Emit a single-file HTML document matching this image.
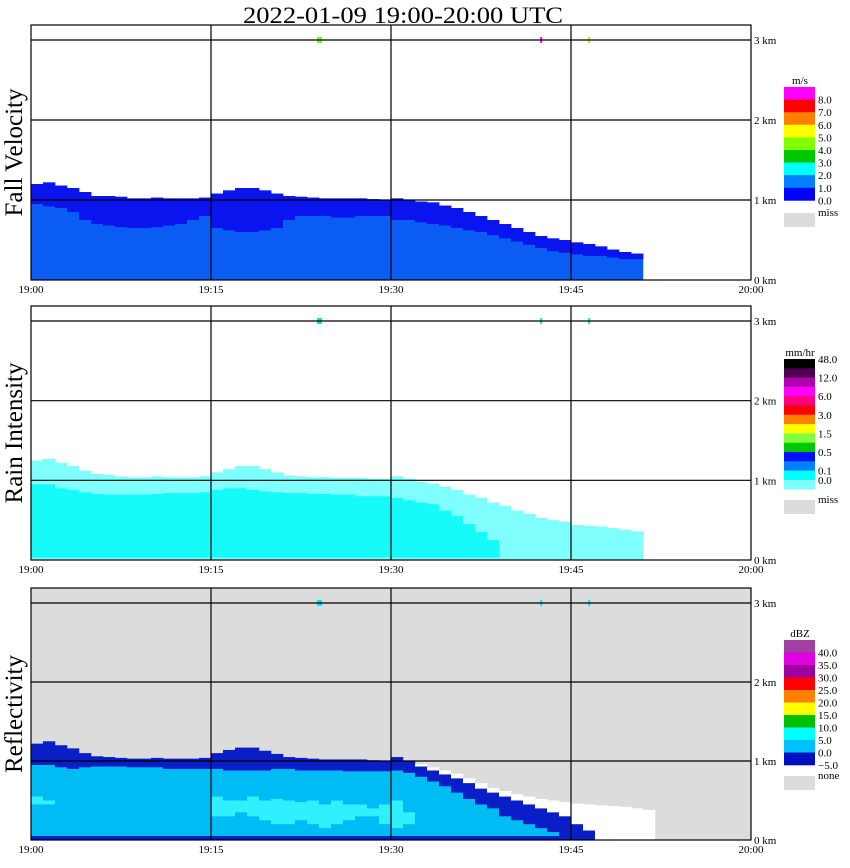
<!DOCTYPE html>
<html><head><meta charset="utf-8"><style>
html,body{margin:0;padding:0;background:#fff;}
svg{display:block;font-family:"Liberation Serif",serif;}
</style></head><body>
<svg id="chart" width="850" height="868" viewBox="0 0 850 868" xmlns="http://www.w3.org/2000/svg">
<text x="243" y="23" font-size="23" textLength="320" lengthAdjust="spacingAndGlyphs">2022-01-09   19:00-20:00 UTC</text>
<g id="layers"></g>
</svg>
<script>
// ---- data (per-minute, km) ----
const minutes = Array.from({length:52},(_, i)=>i);
const fallTop = [1.2,1.22,1.18,1.15,1.1,1.05,1.05,1.04,1.02,1.02,1.03,1.02,1.02,1.02,1.03,1.08,1.12,1.15,1.15,1.12,1.08,1.05,1.04,1.03,1.02,1.02,1.02,1.02,1.01,1.0,1.02,1.0,0.98,0.97,0.93,0.9,0.85,0.8,0.75,0.7,0.65,0.6,0.55,0.52,0.5,0.47,0.45,0.42,0.38,0.35,0.33,0];
const fallDark = [0.95,0.92,0.9,0.85,0.75,0.7,0.68,0.66,0.65,0.65,0.66,0.68,0.7,0.75,0.8,0.65,0.62,0.6,0.6,0.62,0.65,0.75,0.8,0.8,0.8,0.78,0.78,0.8,0.8,0.8,0.75,0.75,0.72,0.7,0.68,0.65,0.62,0.6,0.56,0.52,0.48,0.44,0.4,0.36,0.34,0.32,0.3,0.3,0.28,0.26,0.26,0];
const rainTop = [1.25,1.27,1.22,1.18,1.12,1.08,1.07,1.05,1.04,1.04,1.05,1.04,1.04,1.04,1.05,1.1,1.14,1.18,1.18,1.14,1.1,1.06,1.05,1.04,1.04,1.03,1.03,1.03,1.02,1.02,1.05,1.02,0.98,0.96,0.92,0.88,0.82,0.78,0.72,0.68,0.62,0.58,0.53,0.5,0.48,0.44,0.43,0.42,0.4,0.38,0.36,0];
const rainCore = [0.95,0.95,0.9,0.88,0.85,0.83,0.82,0.82,0.82,0.82,0.83,0.84,0.84,0.84,0.85,0.88,0.9,0.9,0.88,0.86,0.85,0.84,0.84,0.83,0.83,0.82,0.82,0.8,0.8,0.8,0.78,0.75,0.72,0.7,0.62,0.55,0.45,0.35,0.25,0,0,0,0,0,0,0,0,0,0,0,0,0];
const reflTop = [1.22,1.25,1.2,1.16,1.1,1.06,1.05,1.04,1.03,1.03,1.04,1.03,1.03,1.03,1.04,1.1,1.14,1.17,1.17,1.13,1.09,1.05,1.04,1.03,1.02,1.02,1.02,1.02,1.01,1.0,1.05,1.0,0.96,0.92,0.88,0.84,0.78,0.72,0.66,0.62,0.58,0.55,0.52,0.5,0.48,0.46,0.45,0.44,0.43,0.42,0.4,0.38];
const reflColorTop = [1.22,1.25,1.2,1.16,1.1,1.06,1.05,1.04,1.03,1.03,1.04,1.03,1.03,1.03,1.04,1.1,1.14,1.17,1.17,1.13,1.09,1.05,1.04,1.03,1.02,1.02,1.02,1.02,1.01,1.0,1.05,1.0,0.93,0.88,0.83,0.78,0.72,0.65,0.6,0.55,0.5,0.45,0.4,0.35,0.3,0.2,0.12,0,0,0,0,0];
const reflDark = [0.95,0.95,0.92,0.9,0.92,0.93,0.93,0.93,0.92,0.92,0.92,0.9,0.9,0.9,0.9,0.9,0.88,0.88,0.88,0.88,0.9,0.9,0.88,0.88,0.88,0.88,0.87,0.87,0.87,0.87,0.88,0.85,0.8,0.74,0.68,0.6,0.52,0.45,0.4,0.3,0.25,0.2,0.15,0.1,0.05,0,0,0,0,0,0,0];
const cyanTop = [0.55,0.5,0,0,0,0,0,0,0,0,0,0,0,0,0,0.55,0.5,0.5,0.55,0.5,0.52,0.5,0.48,0.5,0.45,0.5,0.45,0.45,0.4,0.45,0.5,0.35,0,0,0,0,0,0,0,0,0,0,0,0,0,0,0,0,0,0,0,0];
const cyanBot = [0.45,0.45,0,0,0,0,0,0,0,0,0,0,0,0,0,0.3,0.3,0.35,0.3,0.25,0.2,0.2,0.25,0.2,0.15,0.2,0.25,0.3,0.3,0.2,0.15,0.2,0,0,0,0,0,0,0,0,0,0,0,0,0,0,0,0,0,0,0,0];
const markerMins = [24,42.6,46.6];
const fallLegendLabels = ["8.0","7.0","6.0","5.0","4.0","3.0","2.0","1.0","0.0"];
const rainLegendLabels = ["48.0","","12.0","","6.0","","3.0","","1.5","","0.5","","0.1","0.0"];
const reflLegendLabels = ["","40.0","35.0","30.0","25.0","20.0","15.0","10.0","5.0","0.0","\u22125.0"];
const xTickLabels = ["19:00","19:15","19:30","19:45","20:00"];
const kmLabels = ["0 km","1 km","2 km","3 km"];

const NS="http://www.w3.org/2000/svg";
const root=document.getElementById('layers');
function mk(tag,attrs,parent){const e=document.createElementNS(NS,tag);for(const k in attrs)e.setAttribute(k,attrs[k]);(parent||root).appendChild(e);return e;}
const X0=31,X1=751;
function xs(m){return X0+m*(X1-X0)/60;}
const panels=[
 {name:'fall-velocity',title:'Fall Velocity',top:25,bot:280,k3:40,bg:'#fff'},
 {name:'rain-intensity',title:'Rain Intensity',top:306,bot:560,k3:321,bg:'#fff'},
 {name:'reflectivity',title:'Reflectivity',top:588,bot:840,k3:603,bg:'#dcdcdc'}
];
function ysFn(p){const s=(p.bot-p.k3)/3;return km=>p.bot-km*s;}
function col(g,m,k0,k1,ys,fill){if(k1<=k0)return;const r=mk('rect',{x:xs(m),y:ys(k1),width:xs(1)-xs(0)+0.3,height:ys(k0)-ys(k1),fill:fill},g);

}

panels.forEach((p,pi)=>{
 const g=mk('g',{});
 
 
 mk('rect',{x:X0,y:p.top,width:X1-X0,height:p.bot-p.top,fill:p.bg},g);
 const ys=ysFn(p);
 const data=mk('g',{},g);
 
 
 minutes.forEach(m=>{
  if(pi===0){
   if(fallTop[m]<=0)return;
   col(data,m,0,fallTop[m],ys,'#0b5cf2');
   col(data,m,fallDark[m],fallTop[m],ys,'#0a14ee');
  } else if(pi===1){
   col(data,m,0,rainTop[m],ys,'#80ffff');
   if(rainCore[m]>0)col(data,m,0.03,rainCore[m],ys,'#16fafa');
  } else {
   col(data,m,0,reflTop[m],ys,'#ffffff');
   if(reflColorTop[m]>0){
    col(data,m,0,reflColorTop[m],ys,'#0a1ec8');
    if(reflDark[m]>0.05)col(data,m,0.05,reflDark[m],ys,'#00bcf4');
    if(cyanTop[m]>0)col(data,m,cyanBot[m],cyanTop[m],ys,'#30f0ff');
   }
  }
 });
 const mc=pi===0?['#80ff00','#ff00ff','#80ff00']:['#00e0ff','#00e0ff','#00e0ff'];
 markerMins.forEach((mm,i)=>{const r=mk('rect',{x:xs(mm)-2,y:p.k3-3,width:i===0?5:2,height:6,fill:mc[i]},g);
  
  });
 [15,30,45].forEach(m=>{const l=mk('line',{x1:xs(m),x2:xs(m),y1:p.top,y2:p.bot,stroke:'#000','stroke-width':1.2},g);
  
  });
 [1,2,3].forEach(k=>{const l=mk('line',{x1:X0,x2:X1,y1:ys(k),y2:ys(k),stroke:'#000','stroke-width':1.2},g);
  
  });
 const fr=mk('rect',{x:X0,y:p.top,width:X1-X0,height:p.bot-p.top,fill:'none',stroke:'#000','stroke-width':1.2},g);
 
 
 kmLabels.forEach((t,k)=>{const tx=mk('text',{x:754,y:ys(k)+4,'font-size':11},g);tx.textContent=t;
  
  });
 xTickLabels.forEach((t,i)=>{const tx=mk('text',{x:xs(i*15),y:p.bot+13,'font-size':11,'text-anchor':'middle'},g);tx.textContent=t;
  
  });
 const yc=(p.top+p.bot)/2;
 const tt=mk('text',{x:0,y:0,'font-size':25,'text-anchor':'middle',transform:`translate(22,${yc}) rotate(-90)`},g);
 tt.textContent=p.title;
 
 
});

function legend(name,unit,colors,labels,top,h,labelOff,missLabel,missY){
 const g=mk('g',{});
 
 
 const u=mk('text',{x:800,y:top-3,'font-size':11,'text-anchor':'middle'},g);u.textContent=unit;
 
 
 colors.forEach((c,i)=>{const r=mk('rect',{x:784,y:top+i*h,width:31,height:h+0.3,fill:c},g);
  
  });
 labels.forEach((t,i)=>{if(!t)return;const tx=mk('text',{x:818,y:top+(i+labelOff)*h+4,'font-size':11},g);tx.textContent=t;
  
  });
 const mr=mk('rect',{x:784,y:missY,width:31,height:14,fill:'#dcdcdc'},g);
 
 
 const ml=mk('text',{x:818,y:missY+3,'font-size':11},g);ml.textContent=missLabel;
 
 
}
legend('fall-velocity-legend','m/s',['#ff00ff','#ff0000','#ff8000','#ffff00','#80ff00','#00c800','#00ffff','#0080ff','#0000ff'],fallLegendLabels,87,12.6,1,'miss',213);
legend('rain-intensity-legend','mm/hr',['#000000','#500050','#b000b0','#ff00ff','#ff0080','#ff0000','#ff8000','#ffff00','#80ff40','#00c800','#0010ff','#0080ff','#00ffff','#80ffff'],rainLegendLabels,359,9.3,0,'miss',500);
legend('reflectivity-legend','dBZ',['#a040a0','#e000e0','#a000a0','#ff0000','#ff8000','#ffff00','#00c000','#00ffff','#00c0ff','#0010c0'],reflLegendLabels,640,12.5,0,'none',776);
</script>
</body></html>
